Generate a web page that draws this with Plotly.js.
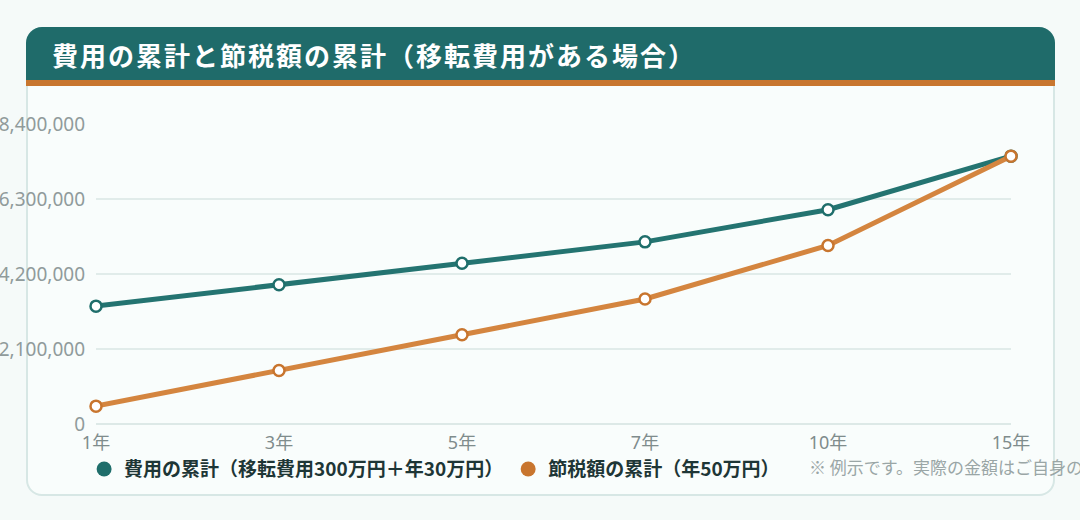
<!DOCTYPE html>
<html>
<head>
<meta charset="utf-8">
<script src="https://cdn.plot.ly/plotly-3.0.1.min.js"></script>
<style>
  html, body { margin:0; padding:0; width:1080px; height:520px; overflow:hidden; background:#f5faf9; }
  #card { position:absolute; left:26px; top:27px; width:1025px; height:465px; background:#f9fdfc;
          border:2px solid #d7e7e5; border-radius:16px; box-sizing:content-box; }
  #banner { position:absolute; left:26px; top:27px; width:1029px; height:53px; background:#1f6b6a;
            border-bottom:6px solid #c8762f; border-radius:16px 16px 0 0; }
  #banner span { position:absolute; left:26px; top:50%; transform:translateY(-50%);
            color:#ffffff; font-family:"Noto Sans CJK JP", "Noto Sans", sans-serif; font-weight:700; font-size:26px; letter-spacing:2px; white-space:nowrap; }
  #chart { position:absolute; left:0; top:0; width:1080px; height:520px; }
</style>
</head>
<body>
<div id="card"></div>
<div id="banner"><span>費用の累計と節税額の累計（移転費用がある場合）</span></div>
<div id="chart"></div>
<script>
const categories = ["1年", "3年", "5年", "7年", "10年", "15年"];
const costCumulative = [3300000, 3900000, 4500000, 5100000, 6000000, 7500000];
const savingCumulative = [500000, 1500000, 2500000, 3500000, 5000000, 7500000];
const seriesNames = ["費用の累計（移転費用300万円＋年30万円）", "節税額の累計（年50万円）"];
const yTicks = [0, 2100000, 4200000, 6300000, 8400000];
const yTickLabels = ["0", "2,100,000", "4,200,000", "6,300,000", "8,400,000"];
const noteText = "※ 例示です。実際の金額はご自身の条件によって異なります。";

const teal = "#1f6e6b", tealLine = "#247471";
const orange = "#c8752e", orangeLine = "#d4853f";
const baseFont = "Noto Sans, Noto Sans CJK JP, sans-serif";

const traces = [
  { type:"scatter", mode:"lines+markers", x:categories, y:costCumulative, name:seriesNames[0], showlegend:false,
    line:{color:tealLine, width:5}, marker:{size:11, color:"#ffffff", line:{color:teal, width:2.5}}, cliponaxis:false },
  { type:"scatter", mode:"lines+markers", x:categories, y:savingCumulative, name:seriesNames[1], showlegend:false,
    line:{color:orangeLine, width:5}, marker:{size:11, color:"#ffffff", line:{color:orange, width:2.5}}, cliponaxis:false },
  { type:"scatter", mode:"markers", x:[categories[0]], y:[null], name:seriesNames[0], showlegend:true,
    marker:{size:15, color:teal} },
  { type:"scatter", mode:"markers", x:[categories[0]], y:[null], name:seriesNames[1], showlegend:true,
    marker:{size:15, color:orange} }
];

const layout = {
  width:1080, height:520,
  paper_bgcolor:"rgba(0,0,0,0)", plot_bgcolor:"rgba(0,0,0,0)",
  margin:{l:96, r:69, t:124, b:96},
  font:{family:baseFont, color:"#8a9696", size:17},
  xaxis:{type:"category", range:[0,5], showgrid:false, zeroline:false, showline:false, ticks:"",
         ticklabelstandoff:6, tickfont:{size:18, color:"#7f8c8c"}, fixedrange:true},
  yaxis:{range:[0,8400000], tickvals:yTicks, ticktext:yTickLabels, showgrid:true, gridcolor:"#e1ecea", gridwidth:1.5,
         zeroline:true, zerolinecolor:"#dde9e7", zerolinewidth:2, showline:false, ticks:"",
         ticklabelstandoff:10, tickfont:{size:19, color:"#909b9b"}, fixedrange:true},
  showlegend:true,
  legend:{orientation:"h", x:-0.013, xanchor:"left", y:-0.087, yanchor:"top",
          font:{family:"Noto Sans CJK JP, sans-serif", size:19, color:"#1e3636", weight:700},
          bgcolor:"rgba(0,0,0,0)", itemclick:false, itemdoubleclick:false, traceorder:"normal"},
  annotations:[{xref:"paper", yref:"paper", x:0.777, y:-0.1433, xanchor:"left", yanchor:"middle",
                text:noteText, showarrow:false, font:{family:"Noto Sans CJK JP, sans-serif", size:17, color:"#9aa6a6"}}]
};

Plotly.newPlot("chart", traces, layout, {displayModeBar:false, staticPlot:true});
</script>
</body>
</html>
